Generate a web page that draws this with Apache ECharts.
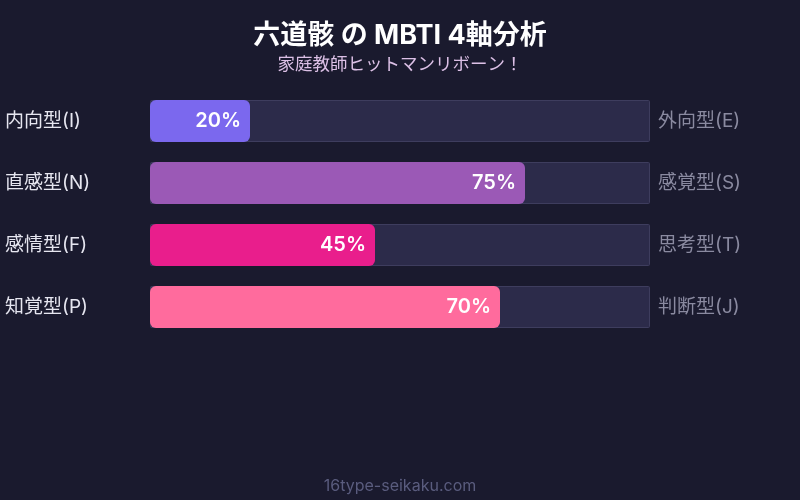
<!DOCTYPE html>
<html><head><meta charset="utf-8">
<script src="https://cdn.jsdelivr.net/npm/echarts@6/dist/echarts.min.js"></script>
<style>html,body{margin:0;padding:0;background:#1a1a2e;}#c{width:800px;height:500px;}</style>
</head><body><div id="c"></div>
<script>
const leftLabels = ['内向型(I)', '直感型(N)', '感情型(F)', '知覚型(P)'];
const rightLabels = ['外向型(E)', '感覚型(S)', '思考型(T)', '判断型(J)'];
const values = [20, 75, 45, 70];
const trackValues = [100, 100, 100, 100];
const barColors = ['#7b68ee', '#9b59b6', '#e91e8c', '#ff6b9d'];
const titleText = '六道骸 の MBTI 4軸分析';
const subText = '家庭教師ヒットマンリボーン！';
const footer = '16type-seikaku.com';

const FONT = "Inter, 'Noto Sans CJK JP', sans-serif";
const chart = echarts.init(document.getElementById('c'));
chart.setOption({
  backgroundColor: '#1a1a2e',
  animation: false,
  textStyle: { fontFamily: FONT },
  title: [
    { text: titleText, left: 'center', top: 17,
      textStyle: { color: '#ffffff', fontSize: 27, fontWeight: 'bold', fontFamily: FONT } },
    { text: subText, left: 'center', top: 51,
      textStyle: { color: '#dcc0e6', fontSize: 17.5, fontWeight: 'normal', fontFamily: FONT } },
    { text: footer, left: 'center', top: 473,
      textStyle: { color: '#5a5c7e', fontSize: 16, fontWeight: 'normal', fontFamily: FONT } }
  ],
  grid: { left: 150, right: 150, top: 90, height: 248 },
  xAxis: { type: 'value', min: 0, max: 100, show: false },
  yAxis: [
    { type: 'category', data: leftLabels, inverse: true,
      axisLine: { show: false }, axisTick: { show: false },
      axisLabel: { color: '#e6e6f0', fontSize: 19, align: 'left', margin: 145, fontFamily: FONT,
        padding: [0, 0, 3, 0] } },
    { type: 'category', data: rightLabels, inverse: true, position: 'right',
      axisLine: { show: false }, axisTick: { show: false },
      axisLabel: { color: '#8a8aa0', fontSize: 19, align: 'left', margin: 8, fontFamily: FONT,
        padding: [0, 0, 3, 0] } }
  ],
  series: [
    { type: 'bar', data: trackValues, barWidth: 42, barGap: '-100%', silent: true,
      itemStyle: { color: '#2c2b4a', borderColor: '#3e3d5e', borderWidth: 1, borderRadius: 1 },
      z: 1 },
    { type: 'bar', data: values.map((v, i) => ({ value: v, itemStyle: { color: barColors[i] } })),
      barWidth: 42, z: 2,
      itemStyle: { borderRadius: 6 },
      label: { show: true, position: 'insideRight', distance: 9, formatter: '{c}%',
        color: '#ffffff', fontSize: 20, fontWeight: 600, fontFamily: FONT } }
  ]
});
</script></body></html>
